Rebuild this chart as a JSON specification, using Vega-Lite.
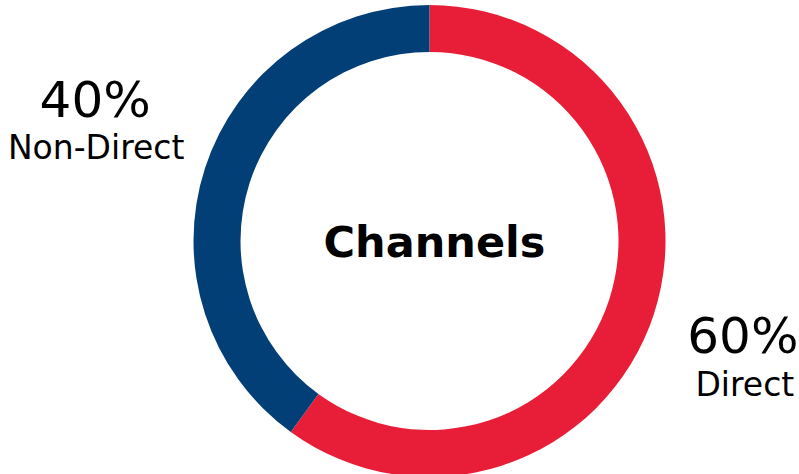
{
  "$schema": "https://vega.github.io/schema/vega-lite/v6.json",
  "width": 739,
  "height": 466,
  "autosize": {"type": "none"},
  "padding": {"left": 60, "top": 8, "right": 0, "bottom": 0},
  "background": "white",
  "config": {"view": {"stroke": null}, "font": "DejaVu Sans"},
  "data": {"values": [
    {"category": "Direct", "value": 60, "pct": "60%"},
    {"category": "Non-Direct", "value": 40, "pct": "40%"}
  ]},
  "encoding": {
    "theta": {"field": "value", "type": "quantitative", "stack": true},
    "order": {"field": "category", "sort": "ascending"}
  },
  "layer": [
    {
      "mark": {"type": "arc", "outerRadius": 236, "innerRadius": 189},
      "encoding": {
        "color": {"field": "category", "type": "nominal",
          "scale": {"domain": ["Direct", "Non-Direct"], "range": ["#E81E38", "#023F77"]},
          "legend": null}
      }
    },
    {
      "mark": {"type": "text", "radius": 340, "fontSize": 50, "align": "center", "baseline": "alphabetic", "dx": -11, "dy": -19, "color": "#000000"},
      "encoding": {"text": {"condition": {"test": "datum.category === 'Non-Direct'", "field": "pct"}, "value": ""}}
    },
    {
      "mark": {"type": "text", "radius": 340, "fontSize": 33, "align": "center", "baseline": "alphabetic", "dx": -10, "dy": 23, "color": "#000000"},
      "encoding": {"text": {"condition": {"test": "datum.category === 'Non-Direct'", "field": "category"}, "value": ""}}
    },
    {
      "mark": {"type": "text", "radius": 340, "fontSize": 50, "align": "center", "baseline": "alphabetic", "dx": -10, "dy": 7, "color": "#000000"},
      "encoding": {"text": {"condition": {"test": "datum.category === 'Direct'", "field": "pct"}, "value": ""}}
    },
    {
      "mark": {"type": "text", "radius": 340, "fontSize": 33, "align": "center", "baseline": "alphabetic", "dx": -8, "dy": 50, "color": "#000000"},
      "encoding": {"text": {"condition": {"test": "datum.category === 'Direct'", "field": "category"}, "value": ""}}
    },
    {
      "data": {"values": [{"title": "Channels"}]},
      "mark": {"type": "text", "fontSize": 43, "fontWeight": "bold", "align": "center", "baseline": "alphabetic", "dx": 5, "dy": 16, "color": "#000000"},
      "encoding": {"text": {"field": "title"}, "theta": null, "order": null}
    }
  ]
}
